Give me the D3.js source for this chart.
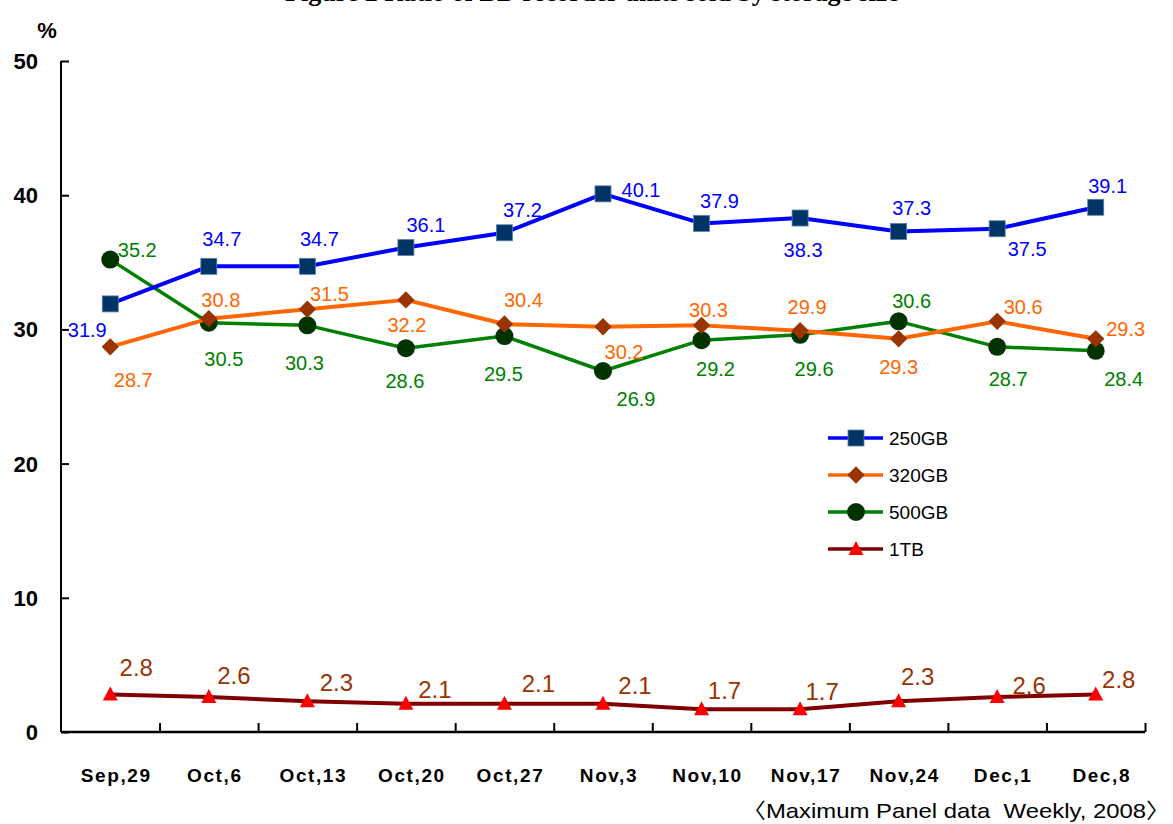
<!DOCTYPE html>
<html>
<head>
<meta charset="utf-8">
<script src="https://cdn.jsdelivr.net/npm/d3@7"></script>
<style>
  html, body { margin: 0; padding: 0; background: #fff; }
  svg { display: block; }
</style>
</head>
<body>
<div id="chart"></div>
<script>
// weeks on the x axis
const weeks = ['Sep,29', 'Oct,6', 'Oct,13', 'Oct,20', 'Oct,27', 'Nov,3', 'Nov,10', 'Nov,17', 'Nov,24', 'Dec,1', 'Dec,8'];

// share of units sold (%)
const gb250 = [31.9, 34.7, 34.7, 36.1, 37.2, 40.1, 37.9, 38.3, 37.3, 37.5, 39.1];
const gb320 = [28.7, 30.8, 31.5, 32.2, 30.4, 30.2, 30.3, 29.9, 29.3, 30.6, 29.3];
const gb500 = [35.2, 30.5, 30.3, 28.6, 29.5, 26.9, 29.2, 29.6, 30.6, 28.7, 28.4];
const tb1 = [2.8, 2.6, 2.3, 2.1, 2.1, 2.1, 1.7, 1.7, 2.3, 2.6, 2.8];

const yTicks = [0, 10, 20, 30, 40, 50];

// where each value label sits relative to its marker (px)
const off250 = [[-23, 26], [13, -28], [12, -28], [20, -23], [18, -23], [38, -4], [18, -23], [3, 32], [13, -24], [30, 20], [12, -21]];
const off320 = [[23, 33], [12, -19], [22, -15], [1, 25], [19, -24], [21, 25], [7, -16], [7, -24], [0, 28], [26, -15], [30, -10]];
const off500 = [[27, -10], [15, 36], [-3, 37], [-1, 33], [-1, 38], [33, 28], [14, 29], [14, 34], [13, -21], [11, 32], [28, 28]];
const off1tb = [[26, -27], [25, -22], [29, -19], [29, -14], [34, -20], [32, -18], [23, -19], [22, -18], [19, -25], [32, -12], [23, -15]];

const series = [
    { name: '250GB', values: gb250, offsets: off250, line: '#0000ff', lineWidth: 4, marker: 'square', fill: '#003366', label: '#0000ff', fontSize: 20 },
    { name: '320GB', values: gb320, offsets: off320, line: '#ff6600', lineWidth: 4, marker: 'diamond', fill: '#993300', label: '#ff6600', fontSize: 20 },
    { name: '500GB', values: gb500, offsets: off500, line: '#008000', lineWidth: 3.5, marker: 'circle', fill: '#003300', label: '#008000', fontSize: 20 },
    { name: '1TB', values: tb1, offsets: off1tb, line: '#800000', lineWidth: 4, marker: 'triangle', fill: '#ff0000', label: '#993300', fontSize: 24 }
];

const W = 1173, H = 824;
const plot = { left: 61, right: 1145, top: 61, bottom: 732 };

const svg = d3.select('#chart').append('svg')
    .attr('width', W)
    .attr('height', H);

const x = d3.scaleBand()
    .domain(weeks)
    .range([plot.left, plot.right]);

const y = d3.scaleLinear()
    .domain([0, 50])
    .range([plot.bottom, plot.top]);

const cx = d => x(d) + x.bandwidth() / 2;

// title, clipped at the top edge like the source image
svg.append('text')
    .attr('x', 592)
    .attr('y', 1)
    .attr('text-anchor', 'middle')
    .style('font-family', '"Liberation Serif", serif')
    .style('font-weight', 'bold')
    .style('font-size', '26px')
    .text('Figure 2  Ratio of BD recorder units sold by storage size');

// y axis
const yAxis = svg.append('g')
    .attr('transform', `translate(${plot.left},0)`)
    .call(d3.axisRight(y).tickValues(yTicks).tickSize(8).tickFormat(''));
yAxis.select('.domain').attr('d', `M0,${plot.top}V${plot.bottom}`).attr('stroke', '#000').attr('stroke-width', 2);
yAxis.selectAll('.tick line').attr('stroke', '#000').attr('stroke-width', 2);

svg.append('g').selectAll('text')
    .data(yTicks)
    .enter()
    .append('text')
    .attr('x', 38)
    .attr('y', d => y(d) + 8)
    .attr('text-anchor', 'end')
    .style('font-family', '"Liberation Sans", Arial, sans-serif')
    .style('font-weight', 'bold')
    .style('font-size', '22px')
    .text(d => d);

svg.append('text')
    .attr('x', 47)
    .attr('y', 38)
    .attr('text-anchor', 'middle')
    .style('font-family', '"Liberation Sans", Arial, sans-serif')
    .style('font-weight', 'bold')
    .style('font-size', '22px')
    .text('%');

// x axis with ticks between categories
const bounds = weeks.map(w => x(w) + x.bandwidth());
const xAxisScale = d3.scaleLinear().domain([plot.left, plot.right]).range([plot.left, plot.right]);
const xAxis = svg.append('g')
    .attr('transform', `translate(0,${plot.bottom})`)
    .call(d3.axisTop(xAxisScale).tickValues(bounds).tickSize(9).tickFormat(''));
xAxis.select('.domain').attr('d', `M${plot.left},0H${plot.right}`).attr('stroke', '#000').attr('stroke-width', 2.5);
xAxis.selectAll('.tick line').attr('stroke', '#000').attr('stroke-width', 2);

svg.append('g').selectAll('text')
    .data(weeks)
    .enter()
    .append('text')
    .attr('x', d => cx(d) + 6)
    .attr('y', 782)
    .attr('text-anchor', 'middle')
    .style('font-family', '"Liberation Sans", Arial, sans-serif')
    .style('font-weight', 'bold')
    .style('font-size', '19px')
    .style('letter-spacing', '1.6px')
    .text(d => d);

// source note
svg.append('text')
    .attr('x', 1170)
    .attr('y', 818)
    .attr('text-anchor', 'end')
    .attr('textLength', 428)
    .attr('lengthAdjust', 'spacingAndGlyphs')
    .style('white-space', 'pre')
    .style('font-family', '"Liberation Sans", "Noto Sans CJK JP", sans-serif')
    .style('font-size', '21px')
    .text('〈Maximum Panel data  Weekly, 2008〉');

function drawMarker(g, type, fill) {
    if (type === 'square') {
        g.append('rect')
            .attr('x', -8).attr('y', -8).attr('width', 16).attr('height', 16)
            .attr('fill', fill).attr('stroke', '#5b7fa3').attr('stroke-width', 0.8);
    } else if (type === 'diamond') {
        g.append('path')
            .attr('d', d3.symbol().type(d3.symbolSquare).size(150)())
            .attr('transform', 'rotate(45)')
            .attr('fill', fill);
    } else if (type === 'circle') {
        g.append('circle').attr('r', 9).attr('fill', fill);
    } else {
        g.append('path')
            .attr('d', 'M0,-8L7.5,6L-7.5,6Z')
            .attr('fill', fill);
    }
}

const line = d3.line()
    .x(d => cx(d.week))
    .y(d => y(d.value));

// draw series back to front so 250GB is on top
series.slice().reverse().forEach(s => {
    const pts = s.values.map((v, i) => ({ week: weeks[i], value: v, off: s.offsets[i] }));
    const g = svg.append('g').attr('class', 'series');

    g.append('path')
        .datum(pts)
        .attr('fill', 'none')
        .attr('stroke', s.line)
        .attr('stroke-width', s.lineWidth)
        .attr('stroke-linejoin', 'round')
        .attr('d', line);

    g.selectAll('.marker')
        .data(pts)
        .enter()
        .append('g')
        .attr('class', 'marker')
        .attr('transform', d => `translate(${cx(d.week)},${y(d.value)})`)
        .each(function () { drawMarker(d3.select(this), s.marker, s.fill); });

    g.selectAll('.vlabel')
        .data(pts)
        .enter()
        .append('text')
        .attr('class', 'vlabel')
        .attr('x', d => cx(d.week) + d.off[0])
        .attr('y', d => y(d.value) + d.off[1])
        .attr('dy', '0.36em')
        .attr('text-anchor', 'middle')
        .attr('fill', s.label)
        .style('font-family', '"Liberation Sans", Arial, sans-serif')
        .style('font-size', s.fontSize + 'px')
        .text(d => d.value.toFixed(1));
});

// legend
const legend = svg.append('g').attr('transform', 'translate(828,438)');
const items = legend.selectAll('.legend-item')
    .data(series)
    .enter()
    .append('g')
    .attr('class', 'legend-item')
    .attr('transform', (d, i) => `translate(0,${i * 37})`);

items.append('line')
    .attr('x1', 0).attr('x2', 55)
    .attr('stroke', d => d.line)
    .attr('stroke-width', 3.5);

items.append('g')
    .attr('transform', 'translate(28,0)')
    .each(function (d) { drawMarker(d3.select(this), d.marker, d.fill); });

items.append('text')
    .attr('x', 61)
    .attr('dy', '0.36em')
    .style('font-family', '"Liberation Sans", Arial, sans-serif')
    .style('font-size', '19px')
    .text(d => d.name);
</script>
</body>
</html>
